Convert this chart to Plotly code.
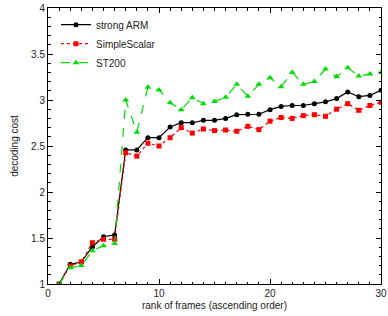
import plotly.graph_objects as go

frames = list(range(1, 31))
strong_arm = [1.0, 1.214, 1.239, 1.405, 1.514, 1.533, 2.457, 2.457, 2.59, 2.59,
              2.706, 2.753, 2.753, 2.779, 2.779, 2.80, 2.84, 2.845, 2.845, 2.895,
              2.93, 2.94, 2.94, 2.96, 2.98, 3.015, 3.087, 3.036, 3.05, 3.105]
simple_scalar = [1.0, 1.196, 1.24, 1.449, 1.486, 1.486, 2.427, 2.39, 2.53, 2.50,
                 2.59, 2.70, 2.64, 2.685, 2.667, 2.674, 2.66, 2.714, 2.678, 2.77,
                 2.81, 2.80, 2.83, 2.84, 2.823, 2.90, 2.96, 2.888, 2.94, 2.975]
st200 = [1.0, 1.177, 1.20, 1.362, 1.416, 1.44, 3.0, 2.65, 3.138, 3.11,
         2.97, 2.895, 3.025, 2.96, 2.985, 3.03, 3.17, 3.04, 3.17, 3.242,
         3.145, 3.30, 3.17, 3.20, 3.337, 3.253, 3.35, 3.26, 3.283, 3.30]

font = "Liberation Sans, Arial, sans-serif"

fig = go.Figure()
fig.add_trace(go.Scatter(x=frames, y=strong_arm, name="strong ARM", mode="lines+markers",
                         line=dict(color="black", width=1.2),
                         marker=dict(symbol="circle", size=5, color="black")))
fig.add_trace(go.Scatter(x=frames, y=simple_scalar, name="SimpleScalar", mode="lines+markers",
                         line=dict(color="#ff0000", width=1.2, dash="dot"),
                         marker=dict(symbol="square", size=5, color="#ff0000")))
fig.add_trace(go.Scatter(x=frames, y=st200, name="ST200", mode="lines+markers",
                         line=dict(color="#00dd00", width=1.2, dash="dash"),
                         marker=dict(symbol="triangle-up", size=6, color="#00dd00")))

axis_common = dict(showgrid=False, zeroline=False, showline=True, linecolor="black",
                   linewidth=1, mirror="ticks", ticks="inside", ticklen=5,
                   tickcolor="black", tickfont=dict(family=font, size=10, color="#222"))

fig.update_xaxes(range=[0, 30], dtick=10, tick0=0,
                 minor=dict(dtick=1, ticks="inside", ticklen=2.5, tickcolor="black"),
                 title=dict(text="rank of frames (ascending order)",
                            font=dict(family=font, size=10, color="#222"), standoff=3),
                 **axis_common)
fig.update_yaxes(range=[1, 4], dtick=0.5, tick0=1,
                 minor=dict(dtick=0.1, ticks="inside", ticklen=2.5, tickcolor="black"),
                 title=dict(text="decoding cost",
                            font=dict(family=font, size=10, color="#222"), standoff=10),
                 **axis_common)

fig.update_layout(width=388, height=316, margin=dict(l=48, r=7, t=8, b=32, autoexpand=False),
                  plot_bgcolor="white", paper_bgcolor="white",
                  showlegend=True,
                  legend=dict(x=0.024, y=0.992, xanchor="left", yanchor="top",
                              bgcolor="rgba(0,0,0,0)",
                              font=dict(family=font, size=10, color="#222"),
                              tracegroupgap=0, itemwidth=30))

fig.write_html("out.html", config={"displayModeBar": False},
               post_script="document.body.style.margin='0';")
